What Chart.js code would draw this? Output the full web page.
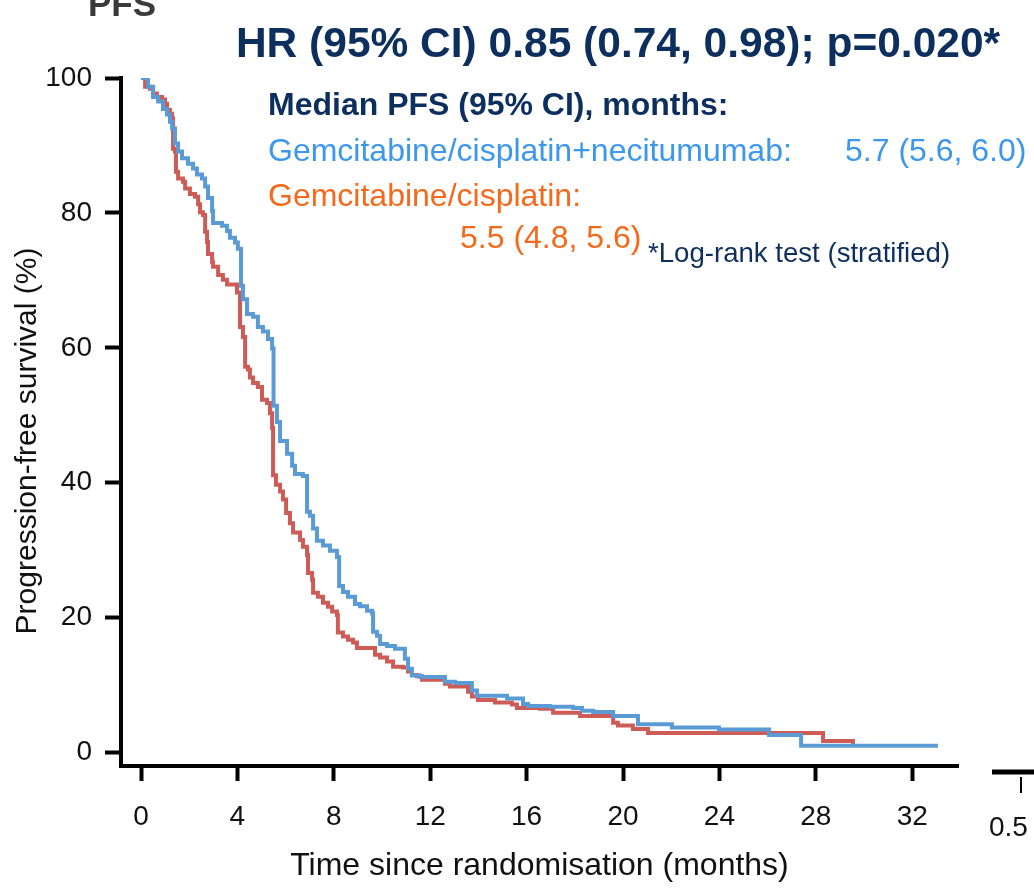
<!DOCTYPE html>
<html>
<head>
<meta charset="utf-8">
<script src="https://cdn.jsdelivr.net/npm/chart.js@4.4.1/dist/chart.umd.min.js"></script>
<style>
  html, body { margin: 0; padding: 0; background: #fff; }
  canvas { display: block; }
</style>
</head>
<body>
<canvas id="canvas-1" width="1034" height="890"></canvas>
<script>
const xTicks = [0, 4, 8, 12, 16, 20, 24, 28, 32];
const yTicks = [0, 20, 40, 60, 80, 100];

// Gemcitabine/cisplatin + necitumumab (blue)
const necitumumabMonths = [0, 0.29, 0.5, 0.71, 0.91, 1.08, 1.2, 1.29, 1.41, 1.54, 1.7, 1.95, 2.16, 2.32, 2.53, 2.66, 2.78, 2.95, 2.99, 3.36, 3.57, 3.69, 3.9, 4.02, 4.15, 4.23, 4.4, 4.65, 4.85, 5.06, 5.27, 5.44, 5.5, 5.64, 5.77, 6.06, 6.27, 6.39, 6.72, 6.89, 7.01, 7.14, 7.3, 7.55, 7.84, 8.13, 8.22, 8.38, 8.59, 8.88, 9.09, 9.38, 9.59, 9.63, 9.79, 9.92, 10.21, 10.54, 10.95, 11.08, 11.24, 11.58, 12.61, 13.03, 13.73, 13.94, 15.19, 15.85, 16.06, 16.97, 17.93, 18.3, 18.76, 19.59, 20.62, 22.03, 23.98, 26.06, 27.39, 33.07];
const necitumumabPFS = [100, 98.7, 97.2, 96.5, 95.4, 94.6, 93.5, 92.5, 90.3, 89.1, 88.1, 87.3, 86.6, 85.7, 85.1, 83.9, 82.2, 80.3, 78.5, 78.1, 77.3, 76.3, 75.6, 74.7, 69.2, 67.2, 65.0, 64.6, 63.1, 62.4, 61.3, 59.9, 51.4, 49.0, 46.2, 44.3, 42.5, 41.3, 41.0, 35.7, 35.1, 33.2, 31.4, 30.7, 29.9, 29.0, 24.7, 23.8, 23.1, 22.0, 21.7, 21.0, 20.6, 17.9, 17.3, 16.1, 15.8, 15.4, 13.9, 12.4, 11.4, 11.2, 10.5, 10.3, 9.2, 8.4, 8.0, 7.2, 6.9, 6.8, 6.6, 6.2, 6.0, 5.4, 4.2, 3.7, 3.4, 2.6, 1.0, 1.0];

// Gemcitabine/cisplatin (red)
const controlMonths = [0, 0.17, 0.37, 0.5, 0.66, 0.87, 1.0, 1.08, 1.2, 1.29, 1.33, 1.41, 1.45, 1.54, 1.74, 1.83, 2.03, 2.24, 2.37, 2.45, 2.57, 2.66, 2.74, 2.78, 2.95, 2.99, 3.2, 3.4, 3.57, 3.98, 4.11, 4.23, 4.32, 4.44, 4.52, 4.65, 4.85, 5.02, 5.23, 5.35, 5.44, 5.48, 5.6, 5.77, 5.89, 6.02, 6.18, 6.31, 6.6, 6.72, 6.89, 6.93, 7.1, 7.14, 7.34, 7.55, 7.76, 7.93, 8.13, 8.17, 8.38, 8.59, 8.8, 8.96, 9.71, 9.92, 10.21, 10.46, 10.87, 11.08, 11.24, 11.45, 11.66, 12.61, 12.82, 13.57, 13.73, 13.98, 14.69, 15.39, 15.6, 16.56, 17.1, 18.22, 19.59, 19.79, 20.41, 21.04, 28.3, 29.54];
const controlPFS = [100, 98.7, 98.4, 97.7, 97.2, 96.8, 96.2, 95.3, 94.7, 94.0, 89.5, 89.1, 86.1, 85.1, 84.6, 83.6, 82.8, 82.4, 81.3, 80.1, 79.7, 77.2, 75.7, 73.9, 72.7, 72.0, 70.8, 70.1, 69.4, 68.2, 63.1, 61.6, 57.2, 56.8, 55.6, 54.8, 54.2, 52.3, 51.8, 50.3, 48.1, 41.1, 39.7, 38.7, 37.5, 35.5, 34.0, 32.6, 31.5, 30.5, 29.3, 26.6, 25.6, 23.7, 23.1, 22.2, 21.6, 20.9, 20.4, 17.8, 17.2, 16.7, 16.3, 15.5, 14.5, 14.1, 13.5, 12.7, 12.6, 12.0, 11.5, 11.3, 10.8, 10.2, 9.8, 9.0, 8.3, 7.8, 7.4, 7.1, 6.6, 6.5, 5.9, 5.4, 4.4, 4.0, 3.5, 2.9, 1.7, 1.2];

const FONT = '"Liberation Sans", Arial, Helvetica, sans-serif';
const NAVY = '#0d2f5e';
const BLUE_TEXT = '#3d97ec';
const ORANGE_TEXT = '#f5691c';

const toPoints = (xs, ys) => xs.map((x, i) => ({ x: x, y: ys[i] }));

const annotations = {
    id: 'annotations',
    afterDraw(chart) {
        const ctx = chart.ctx;
        ctx.save();
        ctx.textBaseline = 'alphabetic';

        ctx.fillStyle = '#3a3a3a';
        ctx.textAlign = 'left';
        ctx.font = 'bold 35px ' + FONT;
        ctx.fillText('PFS', 88, 16);

        ctx.fillStyle = NAVY;
        ctx.textAlign = 'center';
        ctx.font = 'bold 42.5px ' + FONT;
        ctx.fillText('HR (95% CI) 0.85 (0.74, 0.98); p=0.020*', 618, 57);

        ctx.textAlign = 'left';
        ctx.font = 'bold 32px ' + FONT;
        ctx.fillText('Median PFS (95% CI), months:', 268, 115);

        ctx.font = '32px ' + FONT;
        ctx.fillStyle = BLUE_TEXT;
        ctx.fillText('Gemcitabine/cisplatin+necitumumab:', 268, 161);
        ctx.fillText('5.7 (5.6, 6.0)', 845, 161);

        ctx.fillStyle = ORANGE_TEXT;
        ctx.fillText('Gemcitabine/cisplatin:', 268, 206);
        ctx.fillText('5.5 (4.8, 5.6)', 460, 248);

        ctx.fillStyle = NAVY;
        ctx.font = '27.6px ' + FONT;
        ctx.fillText('*Log-rank test (stratified)', 648, 262);

        // y axis title, sits a little below the middle of the axis
        ctx.save();
        ctx.translate(28, 441);
        ctx.rotate(-Math.PI / 2);
        ctx.textAlign = 'center';
        ctx.textBaseline = 'middle';
        ctx.fillStyle = '#111';
        ctx.font = '30px ' + FONT;
        ctx.fillText('Progression-free survival (%)', 0, 0);
        ctx.restore();

        // edge of the neighbouring panel, cut off at the right
        ctx.strokeStyle = '#000';
        ctx.lineWidth = 5;
        ctx.beginPath();
        ctx.moveTo(992, 772);
        ctx.lineTo(1034, 772);
        ctx.stroke();
        ctx.lineWidth = 2;
        ctx.beginPath();
        ctx.moveTo(1021, 777);
        ctx.lineTo(1021, 793);
        ctx.stroke();
        ctx.fillStyle = '#111';
        ctx.font = '28px ' + FONT;
        ctx.fillText('0.5', 989, 836);

        ctx.restore();
    }
};

// eslint-disable-next-line no-unused-vars
const pfsChart = new Chart(document.getElementById('canvas-1'), {
    type: 'line',
    data: {
        datasets: [{
            label: 'Gemcitabine/cisplatin+necitumumab',
            data: toPoints(necitumumabMonths, necitumumabPFS),
            borderColor: '#5b9bd5',
            borderWidth: 4,
            stepped: true,
            pointRadius: 0,
            fill: false
        }, {
            label: 'Gemcitabine/cisplatin',
            data: toPoints(controlMonths, controlPFS),
            borderColor: '#cd5c57',
            borderWidth: 4,
            stepped: true,
            pointRadius: 0,
            fill: false
        }]
    },
    options: {
        responsive: false,
        animation: false,
        devicePixelRatio: 1,
        layout: { padding: { top: 78, right: 76, left: 0, bottom: 0 } },
        plugins: {
            legend: { display: false },
            tooltip: { enabled: false }
        },
        scales: {
            x: {
                type: 'linear',
                min: -0.83,
                max: 33.9,
                afterBuildTicks: (scale) => { scale.ticks = xTicks.map(v => ({ value: v })); },
                afterFit: (scale) => { scale.height = 124; },
                ticks: {
                    color: '#111',
                    font: { family: FONT, size: 28 },
                    padding: 19,
                    maxRotation: 0
                },
                grid: {
                    drawOnChartArea: false,
                    drawTicks: true,
                    tickLength: 15,
                    tickWidth: 4,
                    tickColor: '#000'
                },
                border: { display: true, color: '#000', width: 4 },
                title: {
                    display: true,
                    text: 'Time since randomisation (months)',
                    color: '#111',
                    font: { family: FONT, size: 32 },
                    padding: { top: 0, bottom: 5 }
                }
            },
            y: {
                type: 'linear',
                min: -2,
                max: 100,
                afterBuildTicks: (scale) => { scale.ticks = yTicks.map(v => ({ value: v })); },
                afterFit: (scale) => { scale.width = 121; },
                ticks: {
                    color: '#111',
                    font: { family: FONT, size: 28 },
                    padding: 13
                },
                grid: {
                    drawOnChartArea: false,
                    drawTicks: true,
                    tickLength: 16,
                    tickWidth: 4,
                    tickColor: '#000'
                },
                border: { display: true, color: '#000', width: 4 },
                title: { display: false }
            }
        }
    },
    plugins: [annotations]
});
</script>
</body>
</html>
